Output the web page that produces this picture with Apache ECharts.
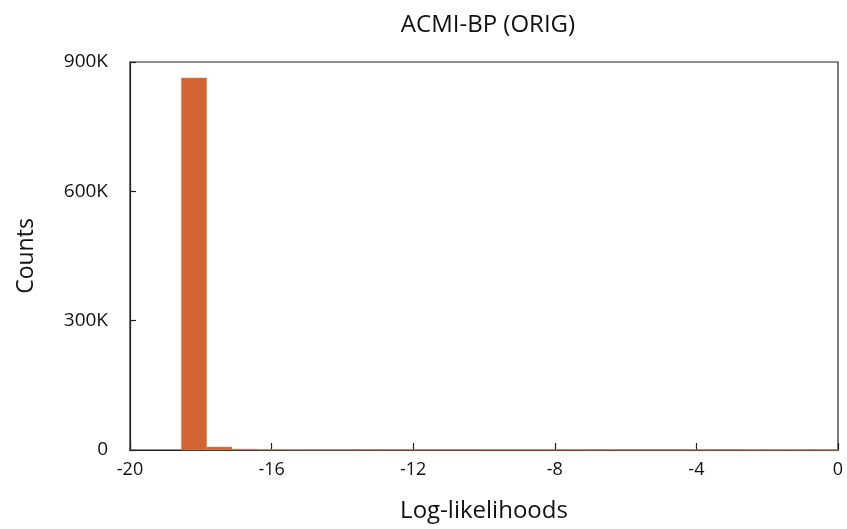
<!DOCTYPE html>
<html>
<head>
<meta charset="utf-8">
<script src="https://cdn.jsdelivr.net/npm/echarts@6/dist/echarts.min.js"></script>
<style>html,body{margin:0;padding:0;background:#fff;}#c{width:847px;height:529px;}</style>
</head>
<body>
<div id="c"></div>
<script>
// Histogram bins (log-likelihood)
const binStart = -18.55;
const binEnd = 0;
const counts = [863000, 7000, 2000, 800, 500, 350, 300, 250, 200, 180, 160, 150, 140, 130, 120, 110, 100, 100, 90, 90, 80, 80, 70, 70, 60, 60];
const xTicks = [-20, -16, -12, -8, -4, 0];
const yTicks = [0, 300000, 600000, 900000];
const yTickLabels = ['0', '300K', '600K', '900K'];

const binWidth = (binEnd - binStart) / counts.length;
const data = counts.map((c, i) => [binStart + i * binWidth, binStart + (i + 1) * binWidth, c]);

const FONT = '"Open Sans", "Noto Sans", sans-serif';
const chart = echarts.init(document.getElementById('c'), null, {renderer: 'canvas'});
chart.setOption({
  animation: false,
  backgroundColor: '#fff',
  title: {
    text: 'ACMI-BP (ORIG)',
    left: 483, top: 8, textAlign: 'center',
    textStyle: {fontFamily: FONT, fontSize: 24, fontWeight: 'normal', color: '#111'}
  },
  grid: {left: 130, right: 9, top: 62, bottom: 79, show: true, borderColor: '#222', borderWidth: 1.2, backgroundColor: 'transparent'},
  xAxis: {
    type: 'value', min: xTicks[0], max: xTicks[xTicks.length - 1], interval: 4,
    name: 'Log-likelihoods', nameLocation: 'middle', nameGap: 49,
    nameTextStyle: {fontFamily: FONT, fontSize: 24, color: '#111'},
    axisLine: {show: true, onZero: false, lineStyle: {color: '#222', width: 1.2}},
    axisTick: {show: true, inside: true, length: 7, lineStyle: {color: '#222', width: 1.2}},
    axisLabel: {fontFamily: FONT, fontSize: 18, color: '#111', margin: 11},
    splitLine: {show: false}
  },
  yAxis: {
    type: 'value', min: 0, max: 900000, interval: 300000,
    name: 'Counts', nameLocation: 'middle', nameGap: 92,
    nameTextStyle: {fontFamily: FONT, fontSize: 23, color: '#111'},
    axisLine: {show: true, onZero: false, lineStyle: {color: '#222', width: 1.2}},
    axisTick: {show: true, inside: true, length: 6, lineStyle: {color: '#222', width: 1.2}},
    axisLabel: {fontFamily: FONT, fontSize: 19, color: '#111', margin: 22,
      formatter: v => { const i = yTicks.indexOf(v); return i >= 0 ? yTickLabels[i] : ''; }},
    splitLine: {show: false}
  },
  series: [{
    type: 'custom',
    data: data,
    encode: {x: [0, 1], y: 2},
    renderItem: (params, api) => {
      const p0 = api.coord([api.value(0), api.value(2)]);
      const p1 = api.coord([api.value(1), 0]);
      return {
        type: 'rect',
        shape: {x: p0[0], y: p0[1], width: p1[0] - p0[0], height: p1[1] - p0[1]},
        style: {fill: '#D16433', stroke: '#E0845A', lineWidth: 0.5}
      };
    }
  }]
});
</script>
</body>
</html>
